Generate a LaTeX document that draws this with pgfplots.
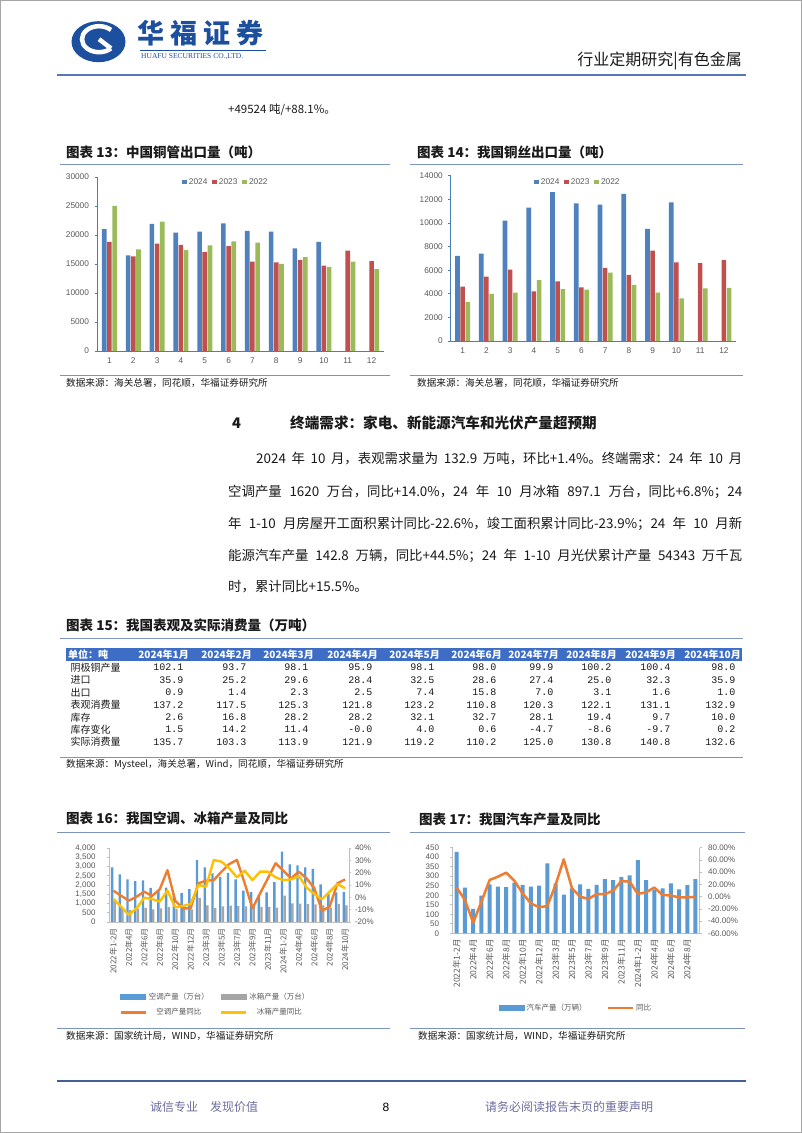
\documentclass[border=0pt]{standalone}
\usepackage{fontspec}
\setmainfont{Noto Sans CJK SC}
\newfontfamily\arial{Liberation Sans}
\newfontfamily\mono{Liberation Mono}
\newfontfamily\tnr{Liberation Serif}
\usepackage{pgfplots}
\pgfplotsset{compat=1.18}
\newcommand\fs[1]{\fontsize{#1}{#1}\selectfont}
\definecolor{xlblue}{HTML}{4F81BD}
\definecolor{xlred}{HTML}{C0504D}
\definecolor{xlgreen}{HTML}{9BBB59}
\definecolor{axblue}{HTML}{4A7EBB}
\definecolor{bblue}{HTML}{5B9BD5}
\definecolor{bgray}{HTML}{A5A5A5}
\definecolor{borange}{HTML}{ED7D31}
\definecolor{byellow}{HTML}{FFC000}
\definecolor{logoblue}{HTML}{1C4F9E}
\definecolor{rulec}{HTML}{7E93BB}
\definecolor{hdrline}{HTML}{5677B8}
\definecolor{tgray}{HTML}{595959}
\definecolor{footc}{HTML}{6E6EA0}
\definecolor{tblhead}{HTML}{3E6DC5}
\definecolor{axgray}{HTML}{BFBFBF}
\definecolor{txt}{HTML}{1A1A1A}

\pgfplotsset{
  cuaxis/.style={
    scale only axis, ybar=0.6pt, bar width=4.6pt,
    xmin=0.5, xmax=12.5, ymin=0, xtick={1,...,12},
    axis x line*=bottom, axis y line*=left,
    axis line style={-, draw=axblue, line width=0.8pt},
    x tick style={draw=none},
    y tick style={draw=axblue, line width=0.6pt},
    tick align=outside, major tick length=3pt,
    ticklabel style={font=\arial\fs{8.3}, text=tgray},
    /pgf/number format/assume math mode=true,
    /pgf/number format/1000 sep={},
    scaled y ticks=false,
    legend columns=3,
    legend style={draw=none, fill=none, font=\arial\fs{8.3}, text=tgray, anchor=center,
       /tikz/every even column/.append style={column sep=3pt}},
    legend image code/.code={\fill[##1] (0pt,-2.3pt) rectangle (4.6pt,2.3pt);},
  },
  ecaxis/.style={
    scale only axis,
    axis line style={-, draw=axgray, line width=0.6pt},
    tick style={draw=axgray, line width=0.6pt},
    tick align=outside, major tick length=2.5pt,
    ticklabel style={font=\arial\fs{8}, text=tgray},
    /pgf/number format/assume math mode=true,
    scaled y ticks=false,
  },
}

\def\colsR{{187,250,312,376,438,500,557,615,674,739}}
\def\colsH{{189,252,314,378,440,502,559,617,676,741}}
\newcommand\trow[3]{%
  \node[anchor=west, font=\fs{10}, text=txt] at (67,#1) {#2};
  \foreach \v [count=\c from 0] in {#3} {%
    \pgfmathsetmacro\xx{\colsR[\c]}%
    \node[anchor=east, font=\mono\fs{10}, text=txt] at (\xx,#1) {\v};
  }%
}

\begin{document}
\begin{tikzpicture}
\useasboundingbox (0,0) rectangle (802pt,1133pt);
\fill[white] (0,0) rectangle (802pt,1133pt);
\begin{scope}[x=1pt,y=-1pt,yshift=1133pt]
\draw[gray!70,line width=1pt] (0.5,0.5) rectangle (801.5,1132.5);
% ---------- header ----------
\fill[logoblue] (98.5,41.7) ellipse [x radius=27pt, y radius=20.5pt];
\draw[white, line width=4.5pt] (111,30) arc[start angle=45, end angle=315, x radius=17pt, y radius=13pt];
\draw[white, line width=4.5pt] (99,39.2) -- (111,48.4);
\node[anchor=west, inner sep=0, font=\bfseries\fs{27}, text=logoblue] at (137,33) {华\hspace{6pt}福\hspace{6pt}证\hspace{6pt}券};
\draw[logoblue, line width=0.5pt] (140,50.5) -- (266,50.5);
\node[anchor=west, inner sep=0, font=\tnr\fs{7.5}, text=logoblue] at (141,57) {HUAFU SECURITIES CO.,LTD.};
\node[anchor=east, inner sep=0, font=\fs{16}, text=txt] at (742,61) {行业定期研究|有色金属};
\draw[hdrline, line width=2pt] (57,75) -- (746,75);
\node[anchor=west, inner sep=0, font=\fs{11.5}, text=txt] at (228,110) {+49524 吨/+88.1\%。};
% ---------- chart 13 / 14 frames ----------
\node[anchor=west, inner sep=0, font=\bfseries\fs{13.5}, text=txt] at (66,152.7) {图表 13：中国铜管出口量（吨）};
\draw[rulec, line width=0.9pt] (60,164.3) -- (390,164.3);
\draw[rulec, line width=0.9pt] (60,375) -- (390,375);
\node[anchor=west, inner sep=0, font=\fs{9.6}, text=txt] at (66,382.5) {数据来源：海关总署，同花顺，华福证券研究所};
\node[anchor=west, inner sep=0, font=\bfseries\fs{13.5}, text=txt] at (417,152.7) {图表 14：我国铜丝出口量（吨）};
\draw[rulec, line width=0.9pt] (410,164.3) -- (743,164.3);
\draw[rulec, line width=0.9pt] (410,375) -- (743,375);
\node[anchor=west, inner sep=0, font=\fs{9.6}, text=txt] at (417,382.5) {数据来源：海关总署，同花顺，华福证券研究所};
% ---------- section text ----------
\node[anchor=west, inner sep=0, font=\bfseries\fs{14.6}, text=txt] at (232,423) {4};
\node[anchor=west, inner sep=0, font=\bfseries\fs{14.6}, text=txt] at (290,423) {终端需求：家电、新能源汽车和光伏产量超预期};
\node[anchor=west, inner sep=0, font=\fs{13.4}, text=txt] at (256,459) {\makebox[486pt][s]{2024 年 10 月，表观需求量为 132.9 万吨，环比+1.4\%。终端需求：24 年 10 月}};
\node[anchor=west, inner sep=0, font=\fs{13.4}, text=txt] at (228,491.5) {\makebox[514pt][s]{空调产量 1620 万台，同比+14.0\%，24 年 10 月冰箱 897.1 万台，同比+6.8\%；24}};
\node[anchor=west, inner sep=0, font=\fs{13.4}, text=txt] at (228,523.5) {\makebox[514pt][s]{年 1-10 月房屋开工面积累计同比-22.6\%，竣工面积累计同比-23.9\%；24 年 10 月新}};
\node[anchor=west, inner sep=0, font=\fs{13.4}, text=txt] at (228,555.5) {\makebox[514pt][s]{能源汽车产量 142.8 万辆，同比+44.5\%；24 年 1-10 月光伏累计产量 54343 万千瓦}};
\node[anchor=west, inner sep=0, font=\fs{13.4}, text=txt] at (228,587) {时，累计同比+15.5\%。};
% ---------- table ----------
\node[anchor=west, inner sep=0, font=\bfseries\fs{13.5}, text=txt] at (66,625) {图表 15：我国表观及实际消费量（万吨）};
\draw[rulec, line width=0.9pt] (60,638) -- (743,638);
\fill[tblhead] (66,648) rectangle (742,661);
\node[anchor=west, inner sep=0, font=\bfseries\fs{10}, text=white] at (68,654.5) {单位：吨};
\foreach \mm [count=\c from 0] in {1,...,10} {%
  \pgfmathsetmacro\xx{\colsH[\c]}%
  \node[anchor=east, inner sep=0, font=\bfseries\fs{10}, text=white] at (\xx,654.5) {2024年\mm 月};
}
\trow{667.7}{阴极铜产量}{102.1,93.7,98.1,95.9,98.1,98.0,99.9,100.2,100.4,98.0}
\trow{680.1}{进口}{35.9,25.2,29.6,28.4,32.5,28.6,27.4,25.0,32.3,35.9}
\trow{692.5}{出口}{0.9,1.4,2.3,2.5,7.4,15.8,7.0,3.1,1.6,1.0}
\trow{704.9}{表观消费量}{137.2,117.5,125.3,121.8,123.2,110.8,120.3,122.1,131.1,132.9}
\trow{717.3}{库存}{2.6,16.8,28.2,28.2,32.1,32.7,28.1,19.4,9.7,10.0}
\trow{729.6}{库存变化}{1.5,14.2,11.4,-0.0,4.0,0.6,-4.7,-8.6,-9.7,0.2}
\trow{741.9}{实际消费量}{135.7,103.3,113.9,121.9,119.2,110.2,125.0,130.8,140.8,132.6}
\draw[rulec, line width=0.9pt] (60,757) -- (743,757);
\node[anchor=west, inner sep=0, font=\fs{9.6}, text=txt] at (66,764.5) {数据来源：Mysteel，海关总署，Wind，同花顺，华福证券研究所};
% ---------- chart 16 / 17 frames ----------
\node[anchor=west, inner sep=0, font=\bfseries\fs{13.5}, text=txt] at (66,818.5) {图表 16：我国空调、冰箱产量及同比};
\draw[rulec, line width=0.9pt] (57,832) -- (390,832);
\draw[rulec, line width=0.9pt] (57,1028) -- (390,1028);
\node[anchor=west, inner sep=0, font=\fs{9.6}, text=txt] at (66,1035.5) {数据来源：国家统计局，WIND，华福证券研究所};
\node[anchor=west, inner sep=0, font=\bfseries\fs{13.5}, text=txt] at (419,819.5) {图表 17：我国汽车产量及同比};
\draw[rulec, line width=0.9pt] (410,832) -- (745,832);
\draw[rulec, line width=0.9pt] (410,1028) -- (745,1028);
\node[anchor=west, inner sep=0, font=\fs{9.6}, text=txt] at (418,1035.5) {数据来源：国家统计局，WIND，华福证券研究所};
% ---------- footer ----------
\draw[hdrline!80!black, line width=1.5pt] (57,1081) -- (746,1081);
\node[anchor=west, inner sep=0, font=\fs{12}, text=footc] at (150,1107) {诚信专业\hspace{12pt}发现价值};
\node[inner sep=0, font=\arial\fs{12}, text=black] at (386,1107) {8};
\node[anchor=west, inner sep=0, font=\fs{12}, text=footc] at (485,1107) {请务必阅读报告末页的重要声明};
% ---------- anchors ----------
\coordinate (c13) at (97.5,351);
\coordinate (c14) at (450.8,341);
\coordinate (c16) at (109.5,922);
\coordinate (c17) at (452.6,933.3);
\end{scope}

% ================= chart 13 =================
\begin{axis}[cuaxis, at={(c13)}, anchor=south west, width=286pt, height=174pt,
  ymax=30000, ytick={0,5000,...,30000}, yticklabel style={xshift=-2pt},
  legend style={at={(0.449,0.971)}}]
\addplot[fill=xlblue, draw=none] coordinates {(1,21000)(2,16500)(3,21900)(4,20400)(5,20600)(6,22000)(7,20700)(8,20600)(9,17700)(10,18800)};
\addlegendentry{2024}
\addplot[fill=xlred, draw=none] coordinates {(1,18800)(2,16300)(3,18500)(4,18300)(5,17100)(6,18100)(7,15400)(8,15300)(9,15700)(10,14700)(11,17300)(12,15500)};
\addlegendentry{2023}
\addplot[fill=xlgreen, draw=none] coordinates {(1,25000)(2,17500)(3,22300)(4,17400)(5,18200)(6,18900)(7,18700)(8,15000)(9,16200)(10,14500)(11,15400)(12,14100)};
\addlegendentry{2022}
\end{axis}

% ================= chart 14 =================
\begin{axis}[cuaxis, at={(c14)}, anchor=south west, width=285pt, height=165.3pt,
  ymax=14000, ytick={0,2000,...,14000}, yticklabel style={xshift=-1.5pt},
  legend style={at={(0.446,0.962)}}]
\addplot[fill=xlblue, draw=none] coordinates {(1,7200)(2,7400)(3,10200)(4,11300)(5,12600)(6,11650)(7,11550)(8,12450)(9,9500)(10,11750)};
\addlegendentry{2024}
\addplot[fill=xlred, draw=none] coordinates {(1,4600)(2,5450)(3,6050)(4,4200)(5,5050)(6,4550)(7,6200)(8,5600)(9,7650)(10,6650)(11,6600)(12,6850)};
\addlegendentry{2023}
\addplot[fill=xlgreen, draw=none] coordinates {(1,3300)(2,4000)(3,4100)(4,5150)(5,4400)(6,4350)(7,5800)(8,4750)(9,4100)(10,3600)(11,4450)(12,4500)};
\addlegendentry{2022}
\end{axis}

% ================= chart 16 =================
\begin{axis}[ecaxis, at={(c16)}, anchor=south west, width=239.5pt, height=74pt,
  xmin=-0.5, xmax=30.5, ymin=0, ymax=4000, ytick={0,500,...,4000},
  ybar=0.2pt, bar width=2.4pt,
  axis x line*=bottom, axis y line*=left,
  xtick={0,2,...,30},
  xticklabels={2022年1-2月,2022年4月,2022年6月,2022年8月,2022年10月,2022年12月,2023年3月,2023年5月,2023年7月,2023年9月,2023年11月,2024年1-2月,2024年4月,2024年6月,2024年8月,2024年10月},
  x tick style={draw=none},
  xticklabel style={rotate=90, anchor=east, font=\fs{8}, text=tgray},
  yticklabel style={xshift=-8pt},
  /pgf/number format/1000 sep={,}]
\addplot[fill=bblue, draw=none] coordinates {(0,2950)(1,2580)(2,2300)(3,2210)(4,2250)(5,1850)(6,1700)(7,1860)(8,1400)(9,1560)(10,1780)(11,3350)(12,2950)(13,2630)(14,2420)(15,2660)(16,2310)(17,1700)(18,1620)(19,1450)(20,1600)(21,2150)(22,3800)(23,3120)(24,3060)(25,2950)(26,2870)(27,2040)(28,1500)(29,1600)(30,1620)};
\addplot[fill=bgray, draw=none] coordinates {(0,1180)(1,780)(2,640)(3,720)(4,760)(5,680)(6,740)(7,800)(8,700)(9,720)(10,680)(11,1300)(12,900)(13,760)(14,840)(15,880)(16,860)(17,840)(18,860)(19,820)(20,820)(21,780)(22,1420)(23,1010)(24,990)(25,960)(26,950)(27,900)(28,760)(29,980)(30,897)};
\end{axis}
\begin{axis}[ecaxis, at={(c16)}, anchor=south west, width=239.5pt, height=74pt,
  xmin=-0.5, xmax=30.5, ymin=-20, ymax=40, ytick={-20,-10,...,40},
  axis y line*=right, axis x line=none,
  yticklabel={\pgfmathprintnumber{\tick}\%},
  legend columns=2,
  legend style={at={(0.04,-1.115)}, anchor=west, draw=none, fill=none, font=\fs{7.5}, text=tgray, row sep=4pt, inner sep=0pt,
    /tikz/every even column/.append style={column sep=9pt}}]
\addlegendimage{legend image code/.code={\fill[bblue] (0pt,-2.6pt) rectangle (25pt,2.6pt);}}
\addlegendentry{空调产量（万台）}
\addlegendimage{legend image code/.code={\fill[bgray] (0pt,-2.6pt) rectangle (25pt,2.6pt);}}
\addlegendentry{冰箱产量（万台）}
\addplot[borange, line width=2.4pt, line join=round, legend image code/.code={\draw[borange, line width=2.6pt] (0pt,0pt) -- (25pt,0pt);}] coordinates {(0,5.4)(1,1.3)(2,-2.7)(3,0.5)(4,4.6)(5,1.1)(6,6.5)(7,22)(8,-2.7)(9,-8.9)(10,-8.9)(11,11.4)(12,13.5)(13,14)(14,20.8)(15,27)(16,30.3)(17,11.4)(18,-8.9)(19,3.3)(20,15.4)(21,27.6)(22,21.6)(23,15.4)(24,20.8)(25,15.4)(26,7.5)(27,-11)(28,-7.5)(29,11.4)(30,14.5)};
\addlegendentry{空调产量同比}
\addplot[byellow, line width=2.4pt, line join=round, legend image code/.code={\draw[byellow, line width=2.6pt] (0pt,0pt) -- (25pt,0pt);}] coordinates {(0,-1.4)(1,-7.6)(2,-14.3)(3,-8.9)(4,-0.3)(5,-1.4)(6,-3.5)(7,5.4)(8,-8.1)(9,-7)(10,-5.4)(11,10)(12,8.6)(13,30.3)(14,28.9)(15,23.5)(16,16.2)(17,21.6)(18,14)(19,20.8)(20,20.8)(21,16.2)(22,14)(23,14.5)(24,17.3)(25,8.1)(26,2.7)(27,-1.6)(28,4.6)(29,10.8)(30,7.3)};
\addlegendentry{冰箱产量同比}
\end{axis}

% ================= chart 17 =================
\begin{axis}[ecaxis, at={(c17)}, anchor=south west, width=247pt, height=85.6pt,
  xmin=-0.5, xmax=29.5, ymin=0, ymax=450, ytick={0,50,...,450},
  ybar, bar width=4pt,
  axis x line*=bottom, axis y line*=left,
  xtick={0,2,...,28},
  xticklabels={2022年1-2月,2022年4月,2022年6月,2022年8月,2022年10月,2022年12月,2023年3月,2023年5月,2023年7月,2023年9月,2023年11月,2024年1-2月,2024年4月,2024年6月,2024年8月},
  x tick style={draw=none},
  xticklabel style={rotate=90, anchor=east, font=\fs{8.5}, text=tgray},
  yticklabel style={xshift=-7.5pt}]
\addplot[fill=bblue, draw=none] coordinates {(0,428)(1,240)(2,128)(3,198)(4,257)(5,245)(6,243)(7,267)(8,255)(9,246)(10,250)(11,367)(12,262)(13,203)(14,236)(15,257)(16,234)(17,254)(18,285)(19,280)(20,295)(21,304)(22,385)(23,280)(24,230)(25,236)(26,263)(27,231)(28,253)(29,285)};
\end{axis}
\begin{axis}[ecaxis, at={(c17)}, anchor=south west, width=247pt, height=85.6pt,
  xmin=-0.5, xmax=29.5, ymin=-60, ymax=80, ytick={-60,-40,...,80},
  axis y line*=right, axis x line=none,
  yticklabel={\pgfmathprintnumber[fixed,fixed zerofill,precision=2]{\tick}\%},
  yticklabel style={xshift=2.5pt},
  legend columns=2,
  legend style={at={(0.188,-0.873)}, anchor=west, draw=none, fill=none, font=\fs{7.5}, text=tgray, inner sep=0pt,
    /tikz/every even column/.append style={column sep=18pt}}]
\addlegendimage{legend image code/.code={\fill[bblue] (0pt,-2.6pt) rectangle (25pt,2.6pt);}}
\addlegendentry{汽车产量（万辆）}
\addplot[borange, line width=2.5pt, line join=round, legend image code/.code={\draw[borange, line width=2.6pt] (0pt,0pt) -- (25pt,0pt);}] coordinates {(0,14.6)(1,-5.5)(2,-42.7)(3,-8.3)(4,27.2)(5,32.6)(6,39.2)(7,26)(8,5.4)(9,-11)(10,-17.5)(11,-15.4)(12,19)(13,61)(14,13.6)(15,-0.1)(16,-3.9)(17,4.3)(18,4)(19,9.7)(20,25.5)(21,24.4)(22,4.5)(23,7)(24,14.8)(25,2.7)(26,1.8)(27,-1.4)(28,-1)(29,-1)};
\addlegendentry{同比}
\end{axis}
\end{tikzpicture}
\end{document}
